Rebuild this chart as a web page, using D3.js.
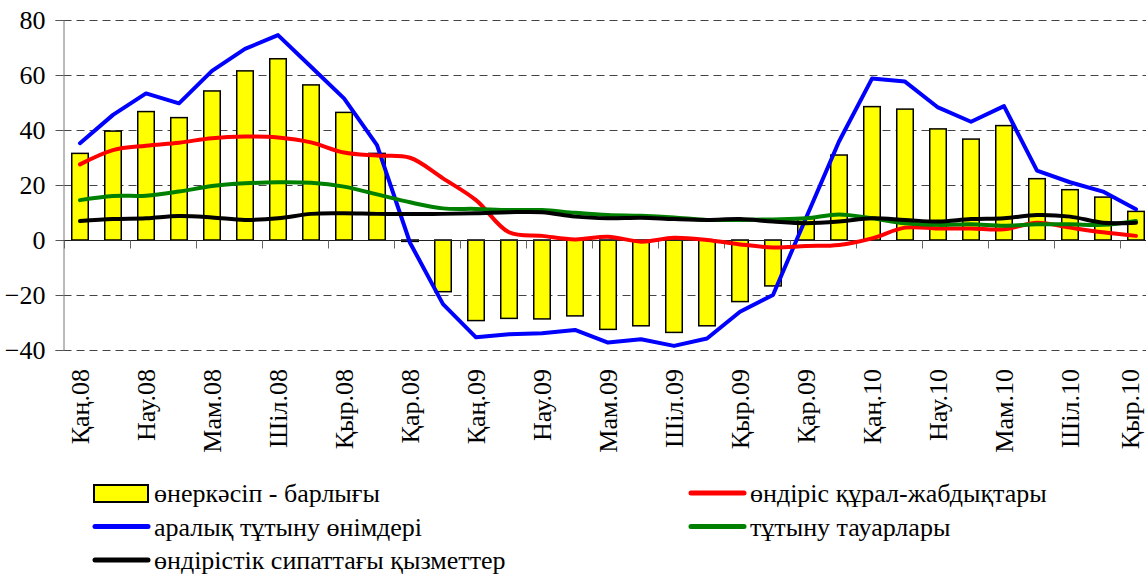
<!DOCTYPE html>
<head>
  <meta charset="utf-8">
  <script src="https://cdn.jsdelivr.net/npm/d3@7"></script>
  <style>
    body { margin:0; background:#fff; }
    svg text { font-family: "Liberation Serif", "Times New Roman", Times, serif; fill:#000; }
  </style>
</head>
<body>
<script>
// months (every second one is labelled)
const months = ["Қаң.08","Ақп.08","Нау.08","Сәу.08","Мам.08","Мау.08","Шіл.08","Там.08","Қыр.08","Қаз.08","Қар.08","Жел.08",
                "Қаң.09","Ақп.09","Нау.09","Сәу.09","Мам.09","Мау.09","Шіл.09","Там.09","Қыр.09","Қаз.09","Қар.09","Жел.09",
                "Қаң.10","Ақп.10","Нау.10","Сәу.10","Мам.10","Мау.10","Шіл.10","Там.10","Қыр.10"];
const yTicks = [-40, -20, 0, 20, 40, 60, 80];

const industry = [31.5,39.6,46.7,44.5,54.2,61.5,65.9,56.4,46.4,31.5,-0.5,-18.8,-29.3,-28.5,-28.7,-27.6,-32.5,-31.2,-33.6,-31.2,-22.4,-16.7,8.0,30.9,48.5,47.6,40.4,36.7,41.6,22.3,18.3,15.6,10.4];
const intermediate = [35.2,45.5,53.3,49.7,61.5,69.5,74.5,63.0,51.5,34.5,-1.0,-23.3,-35.4,-34.3,-33.9,-32.7,-37.3,-36.1,-38.5,-35.8,-26.1,-20.0,8.0,35.8,58.7,57.6,48.2,43.0,48.7,25.2,21.0,17.6,11.2];
const capital = [27.5,32.7,34.3,35.4,37.0,37.6,37.3,35.5,31.8,30.7,29.9,22.4,14.5,2.8,1.5,0.2,1.2,-0.6,0.8,0.0,-1.6,-2.7,-2.2,-1.8,0.6,4.5,4.2,4.2,3.9,6.3,4.5,2.8,1.5];
const consumer = [14.5,16.0,16.1,17.6,19.6,20.6,21.0,20.8,19.4,16.6,13.7,11.5,11.3,10.9,10.9,9.9,9.1,8.8,8.2,7.3,7.3,7.5,7.9,9.3,7.9,6.1,5.5,5.7,5.2,5.7,5.7,5.5,6.9];
const services = [6.9,7.6,7.9,8.7,8.2,7.3,7.9,9.5,9.7,9.5,9.5,9.5,9.7,10.1,10.1,8.5,7.9,8.1,7.6,7.3,7.6,6.7,6.1,6.7,7.9,7.3,6.7,7.6,7.9,9.1,8.5,6.3,6.3];

const serif = '"Liberation Serif", "Times New Roman", Times, serif';

let width = 1146, height = 575;
let svg = d3.select("body").append("svg").attr("width", width).attr("height", height)
  .attr("font-family", serif);

let left = 63.5, step = 33;
let x = d3.scaleBand().domain(months).range([left, left + step * months.length])
  .paddingInner(0.5).paddingOuter(0.25);
let y = d3.scaleLinear().domain([-40, 80]).range([350, 20]);
let cx = d => x(d) + x.bandwidth() / 2;

// dashed gridlines
svg.append("g").selectAll("line")
  .data(yTicks.filter(d => d !== 0))
  .enter().append("line")
  .attr("x1", left).attr("x2", width)
  .attr("y1", d => Math.round(y(d)) + 0.5).attr("y2", d => Math.round(y(d)) + 0.5)
  .attr("stroke", "#444").attr("stroke-dasharray", "8,5");

// y axis
let yAxis = svg.append("g")
  .attr("transform", `translate(${left},0)`)
  .call(d3.axisLeft(y).tickValues(yTicks).tickSize(8).tickPadding(10).tickFormat(d3.format("d")))
  .attr("font-family", serif).attr("font-size", 26);
yAxis.select(".domain").attr("stroke", "#777");
yAxis.selectAll(".tick line").attr("stroke", "#555");

// bars
svg.append("g").selectAll("rect")
  .data(industry)
  .enter().append("rect")
  .attr("x", (d, i) => x(months[i]))
  .attr("width", x.bandwidth())
  .attr("y", d => y(Math.max(0, d)))
  .attr("height", d => Math.abs(y(d) - y(0)))
  .attr("fill", "#ffff00").attr("stroke", "#000").attr("stroke-width", 1.5);

// zero line + ticks every second month
let y0 = Math.round(y(0)) + 0.5;
svg.append("line").attr("x1", left).attr("x2", width).attr("y1", y0).attr("y2", y0)
  .attr("stroke", "#222").attr("stroke-width", 1);
svg.append("g").selectAll("line")
  .data(months.filter((d, i) => i % 2 === 0))
  .enter().append("line")
  .attr("x1", d => Math.round(x(d) - x.step() * 0.25) + 0.5)
  .attr("x2", d => Math.round(x(d) - x.step() * 0.25) + 0.5)
  .attr("y1", y0).attr("y2", y0 + 8)
  .attr("stroke", "#666");

// lines
let series = [
  { name: "аралық тұтыну өнімдері", values: intermediate, color: "#0000ff", curve: d3.curveLinear },
  { name: "өндіріс құрал-жабдықтары", values: capital, color: "#ff0000", curve: d3.curveCatmullRom },
  { name: "тұтыну тауарлары", values: consumer, color: "#008000", curve: d3.curveCatmullRom },
  { name: "өндірістік сипаттағы қызметтер", values: services, color: "#000000", curve: d3.curveCatmullRom }
];
series.forEach(s => {
  let line = d3.line().x((d, i) => cx(months[i])).y(d => y(d)).curve(s.curve);
  svg.append("path").datum(s.values)
    .attr("d", line)
    .attr("fill", "none").attr("stroke", s.color).attr("stroke-width", 4)
    .attr("stroke-linejoin", "round").attr("stroke-linecap", "round");
});

// x labels (last one nudged in so it is not clipped)
svg.append("g").selectAll("text")
  .data(months.filter((d, i) => i % 2 === 0))
  .enter().append("text")
  .attr("transform", d => `translate(${Math.min(cx(d), 1130)},369) rotate(-90)`)
  .attr("text-anchor", "end")
  .attr("dy", "0.35em")
  .style("font-size", "26px")
  .text(d => d);

// legend
let legendItems = [
  { label: "өнеркәсіп - барлығы", type: "bar", col: 0, row: 0 },
  { label: series[1].name, type: "line", color: series[1].color, col: 1, row: 0 },
  { label: series[0].name, type: "line", color: series[0].color, col: 0, row: 1 },
  { label: series[2].name, type: "line", color: series[2].color, col: 1, row: 1 },
  { label: series[3].name, type: "line", color: series[3].color, col: 0, row: 2 }
];
let legend = svg.selectAll(".legend")
  .data(legendItems)
  .enter().append("g")
  .attr("class", "legend")
  .attr("transform", d => `translate(${d.col ? 690 : 94},${493 + d.row * 33.5})`);
legend.filter(d => d.type === "bar").append("rect")
  .attr("x", 0).attr("y", -8).attr("width", 54).attr("height", 17)
  .attr("fill", "#ffff00").attr("stroke", "#000").attr("stroke-width", 2);
legend.filter(d => d.type === "line").append("line")
  .attr("x1", 1).attr("x2", 54).attr("y1", 0).attr("y2", 0)
  .attr("stroke", d => d.color).attr("stroke-width", 5).attr("stroke-linecap", "round");
legend.append("text")
  .attr("x", 60).attr("y", 0).attr("dy", "0.35em")
  .style("font-size", "26px")
  .text(d => d.label);
</script>
</body>
